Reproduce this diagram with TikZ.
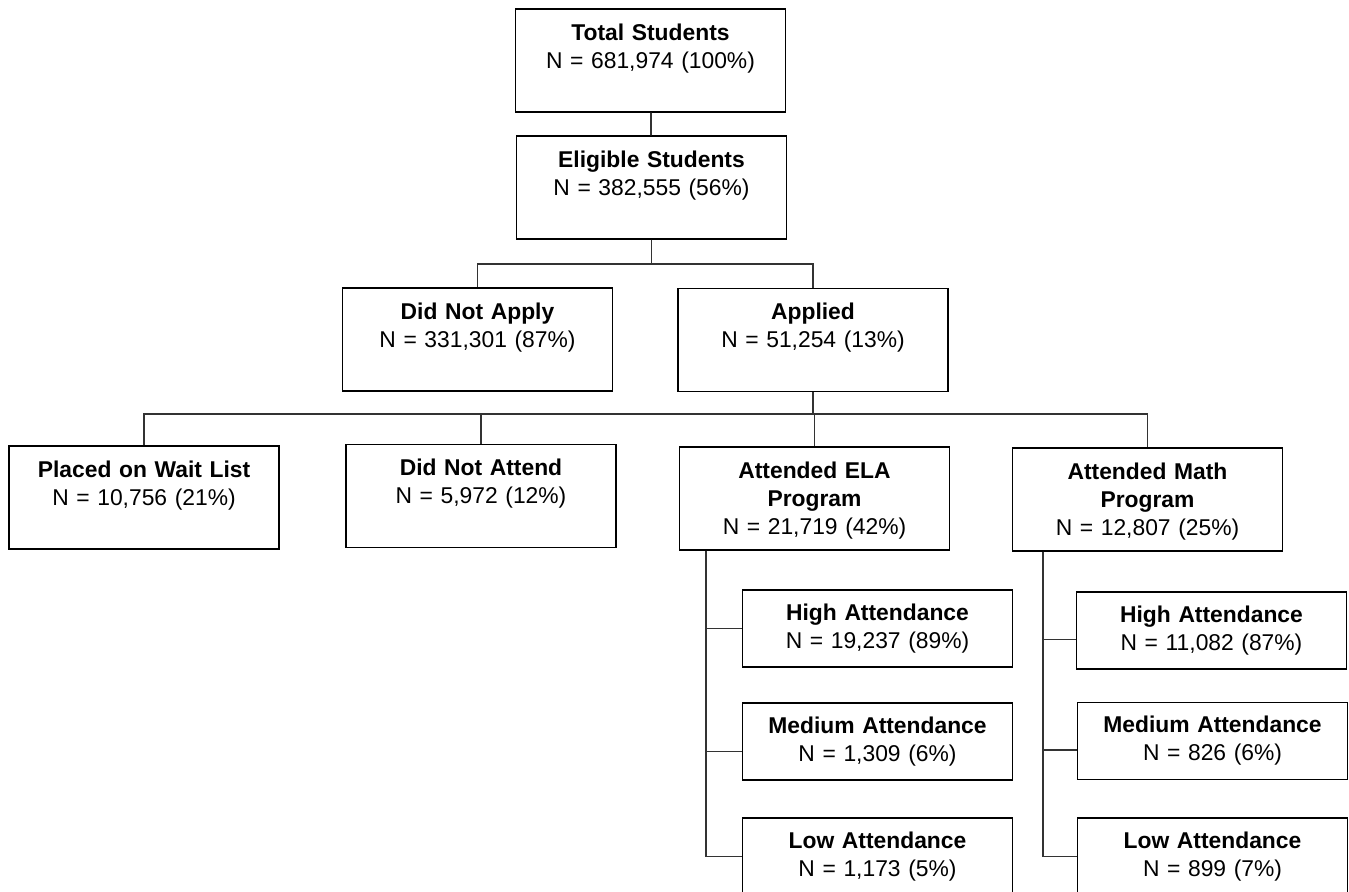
\documentclass[tikz,border=0pt]{standalone}
\usepackage{fontspec}
\setmainfont{Liberation Sans}
\tikzset{
  stepbox/.style={draw, line width=0.8pt, inner xsep=0pt, inner ysep=0pt, text width=5.4cm, align=center,
    font=\fontsize{13}{16}\selectfont, text height=0.62cm, text depth=1.44cm},
  smallbox/.style={stepbox, text height=0.6cm, text depth=0.94cm},
  conn/.style={line width=1pt, black!80}
}
\begin{document}
\begin{tikzpicture}[x=0.02cm, y=-0.02cm]
    \useasboundingbox (0,0) rectangle (1349,892);
    \node[stepbox] (total) at (650.5,60.5) {\textbf{Total Students}\\N = 681,974 (100\%)};
    \node[stepbox] (eligible) at (651.5,187.5) {\textbf{Eligible Students}\\N = 382,555 (56\%)};
    \node[stepbox] (noapply) at (477.5,339.5) {\textbf{Did Not Apply}\\N = 331,301 (87\%)};
    \node[stepbox] (applied) at (813,340) {\textbf{Applied}\\N = 51,254 (13\%)};
    \node[stepbox] (waitlist) at (144,497.5) {\textbf{Placed on Wait List}\\N = 10,756 (21\%)};
    \node[stepbox] (noattend) at (481,496) {\textbf{Did Not Attend}\\N = 5,972 (12\%)};
    \node[stepbox] (ela) at (814.5,498.5) {\textbf{Attended ELA}\\\textbf{Program}\\N = 21,719 (42\%)};
    \node[stepbox] (math) at (1147.5,499.5) {\textbf{Attended Math}\\\textbf{Program}\\N = 12,807 (25\%)};
    \node[smallbox] (highE) at (877.5,628.5) {\textbf{High Attendance}\\N = 19,237 (89\%)};
    \node[smallbox] (medE) at (877.5,741.5) {\textbf{Medium Attendance}\\N = 1,309 (6\%)};
    \node[smallbox] (lowE) at (877.5,856.5) {\textbf{Low Attendance}\\N = 1,173 (5\%)};
    \node[smallbox] (highM) at (1211.5,630.5) {\textbf{High Attendance}\\N = 11,082 (87\%)};
    \node[smallbox] (medM) at (1212.5,741) {\textbf{Medium Attendance}\\N = 826 (6\%)};
    \node[smallbox] (lowM) at (1212.5,856.5) {\textbf{Low Attendance}\\N = 899 (7\%)};
    \draw[conn] (total) -- (eligible);
    \foreach \c in {noapply,applied}
    \draw[conn] (eligible.south) -- ++(0,24) -| (\c.north);
    \foreach \c in {waitlist,noattend,ela,math}
    \draw[conn] (applied.south) -- ++(0,22) -| (\c.north);
    \foreach \c/\dy in {highE/0,medE/10,lowE/0}
    \draw[conn] ([xshift=0.54cm]ela.south west) |- ([yshift=-\dy*0.02cm]\c.west);
    \foreach \c/\dy in {highM/9,medM/9,lowM/0}
    \draw[conn] ([xshift=0.62cm]math.south west) |- ([yshift=-\dy*0.02cm]\c.west);
  \end{tikzpicture}
\end{document}
